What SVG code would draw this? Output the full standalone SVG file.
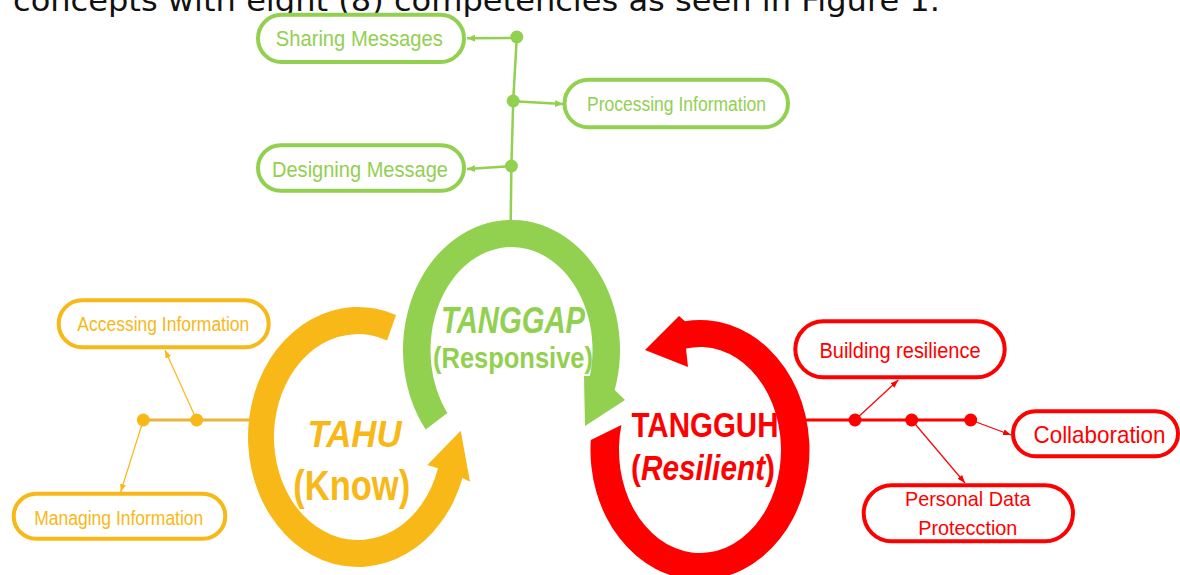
<svg xmlns="http://www.w3.org/2000/svg" width="1180" height="575" viewBox="0 0 1180 575">
<style>
.lbl{font-family:"Liberation Sans",Arial,sans-serif;text-anchor:middle}
.box{fill:#fff;stroke-width:4}
.g{fill:#92D050}.gs{stroke:#92D050}
.y{fill:#F7B818}.ys{stroke:#F7B818}
.r{fill:#FF0000}.rs{stroke:#FF0000}
.big{font-weight:bold}
</style>
<defs>
<marker id="ag" markerUnits="userSpaceOnUse" markerWidth="9" markerHeight="8" refX="8" refY="3.5" orient="auto"><path d="M0,0 L8,3.5 L0,7 Z" fill="#92D050"/></marker>
<marker id="ay" markerUnits="userSpaceOnUse" markerWidth="9" markerHeight="8" refX="8" refY="3" orient="auto"><path d="M0,0 L8,3 L0,6 Z" fill="#F7B818"/></marker>
<marker id="ar" markerUnits="userSpaceOnUse" markerWidth="9" markerHeight="8" refX="8" refY="3" orient="auto"><path d="M0,0 L8,3 L0,6 Z" fill="#FF0000"/></marker>
</defs>
<rect width="1180" height="575" fill="#fff"/>
<text x="13" y="11" font-family="DejaVu Sans,Verdana,sans-serif" font-size="30" fill="#111" textLength="927" lengthAdjust="spacingAndGlyphs">concepts with eight (8) competencies as seen in Figure 1.</text>

<g id="connectors">
<polyline points="516.8,37 513.2,101 511.4,166 510.7,222" fill="none" class="gs" stroke-width="2.5"/>
<line x1="511" y1="38" x2="467" y2="38.3" class="gs" stroke-width="2.5" marker-end="url(#ag)"/>
<line x1="518" y1="101.5" x2="563" y2="104" class="gs" stroke-width="2.5" marker-end="url(#ag)"/>
<line x1="506" y1="166.5" x2="467" y2="169" class="gs" stroke-width="2.5" marker-end="url(#ag)"/>
<circle cx="516.8" cy="37" r="6.5" class="g"/>
<circle cx="513.2" cy="101" r="6.5" class="g"/>
<circle cx="511.4" cy="166" r="6.5" class="g"/>

<line x1="143.3" y1="420" x2="250" y2="420" stroke="#E9B43A" stroke-width="3"/>
<line x1="196.7" y1="420" x2="165" y2="350" class="ys" stroke-width="1.2" marker-end="url(#ay)"/>
<line x1="143.3" y1="420" x2="120.7" y2="492" class="ys" stroke-width="1.2" marker-end="url(#ay)"/>
<circle cx="143.3" cy="420" r="6.5" class="y"/>
<circle cx="196.7" cy="420" r="6.5" class="y"/>

<line x1="806" y1="420" x2="970.7" y2="420" class="rs" stroke-width="3"/>
<line x1="855" y1="420" x2="898.3" y2="380" class="rs" stroke-width="1.2" marker-end="url(#ar)"/>
<line x1="911.7" y1="420" x2="965" y2="483" class="rs" stroke-width="1.2" marker-end="url(#ar)"/>
<line x1="970.7" y1="420" x2="1011" y2="435" class="rs" stroke-width="1.2" marker-end="url(#ar)"/>
<circle cx="855" cy="420" r="6.5" class="r"/>
<circle cx="911.7" cy="420" r="6.5" class="r"/>
<circle cx="970.7" cy="420" r="6.5" class="r"/>
</g>

<g id="tahu">
<path class="y" d="M396 315 A110 130 0 1 0 462.4 478 L470 481.7 L460.7 430.7 L427.3 465 L438 468.3 A84 103 0 1 1 387 340.4 Z"/>
<text class="lbl big y" x="354.5" y="446.7" font-size="37" font-style="italic" textLength="94" lengthAdjust="spacingAndGlyphs">TAHU</text>
<text class="lbl big y" x="351.7" y="500" font-size="42" textLength="117" lengthAdjust="spacingAndGlyphs">(Know)</text>
</g>

<g id="tanggap">
<path class="g" d="M425.7 429.5 A108.5 130 0 1 1 614.7 390 L625 400 L585 426 L584 376 L589.9 376 A81 103 0 1 0 447.4 413 Z"/>
<text class="lbl big g" x="513" y="333.3" font-size="37" font-style="italic" textLength="144" lengthAdjust="spacingAndGlyphs">TANGGAP</text>
<text class="lbl big g" x="513" y="368.3" font-size="29" textLength="160" lengthAdjust="spacingAndGlyphs">(Responsive)</text>
</g>

<g id="tangguh">
<path class="r" d="M590.8 440 A109.5 130 0 1 0 685 321.2 L679 316 L645 350 L688 367 L686 348.5 A81 103 0 1 1 621.4 425 Z"/>
<text class="lbl big r" x="705" y="436.7" font-size="35" textLength="147" lengthAdjust="spacingAndGlyphs">TANGGUH</text>
<text class="lbl big r" x="703" y="480" font-size="35" textLength="144" lengthAdjust="spacingAndGlyphs">(<tspan font-style="italic">Resilient</tspan>)</text>
</g>

<g id="sharing-messages">
<rect class="box gs" x="258" y="14.7" width="206" height="47.3" rx="23.6"/>
<text class="lbl g" x="359.3" y="46" font-size="22" textLength="167" lengthAdjust="spacingAndGlyphs">Sharing Messages</text>
</g>
<g id="processing-information">
<rect class="box gs" x="564.5" y="79.7" width="223.5" height="47.6" rx="23.8"/>
<text class="lbl g" x="676.5" y="110.7" font-size="20" textLength="179" lengthAdjust="spacingAndGlyphs">Processing Information</text>
</g>
<g id="designing-message">
<rect class="box gs" x="258" y="145.3" width="206" height="45.4" rx="22.7"/>
<text class="lbl g" x="360" y="176.7" font-size="21.5" textLength="176" lengthAdjust="spacingAndGlyphs">Designing Message</text>
</g>

<g id="accessing-information">
<rect class="box ys" x="58.7" y="300.3" width="210" height="47" rx="23.5"/>
<text class="lbl y" x="163.3" y="331" font-size="20" textLength="172" lengthAdjust="spacingAndGlyphs">Accessing Information</text>
</g>
<g id="managing-information">
<rect class="box ys" x="13.7" y="493.7" width="211.6" height="45" rx="22.5"/>
<text class="lbl y" x="118.8" y="525" font-size="20" textLength="169" lengthAdjust="spacingAndGlyphs">Managing Information</text>
</g>

<g id="building-resilience">
<rect class="box rs" x="795.3" y="321.3" width="209.4" height="56" rx="28"/>
<text class="lbl r" x="900" y="357.7" font-size="22" textLength="161" lengthAdjust="spacingAndGlyphs">Building resilience</text>
</g>
<g id="collaboration">
<rect class="box rs" x="1013" y="411.3" width="165" height="45" rx="22.5"/>
<text class="lbl r" x="1099.5" y="442.7" font-size="24" textLength="132" lengthAdjust="spacingAndGlyphs">Collaboration</text>
</g>
<g id="personal-data-protection">
<rect class="box rs" x="863.7" y="485.3" width="209.3" height="56" rx="28"/>
<text class="lbl r" x="967.8" y="506" font-size="21" textLength="125.7" lengthAdjust="spacingAndGlyphs">Personal Data</text>
<text class="lbl r" x="967.8" y="535.3" font-size="21" textLength="99" lengthAdjust="spacingAndGlyphs">Protecction</text>
</g>
</svg>
